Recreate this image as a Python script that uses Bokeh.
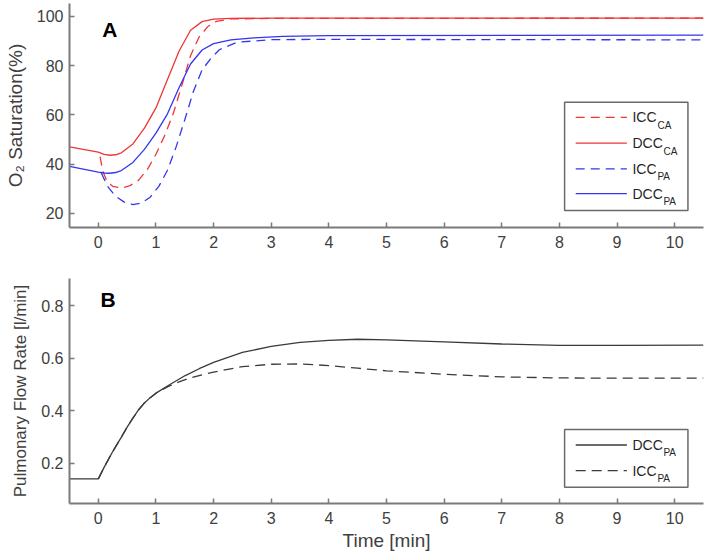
from bokeh.plotting import figure
from bokeh.layouts import column
from bokeh.models import Range1d, FixedTicker
from bokeh.core.properties import value
from bokeh.embed import file_html
from bokeh.resources import INLINE

# ---------------- data ----------------
# Panel A: O2 saturation (%)
t_dcc_ca = [-0.5, 0.0, 0.1, 0.2, 0.3, 0.4, 0.6, 0.8, 1.0, 1.2, 1.4, 1.6, 1.8, 2.0, 2.3, 3.0, 10.5]
v_dcc_ca = [47.0, 44.9, 44.0, 43.6, 43.8, 44.6, 48.2, 54.6, 62.8, 74.3, 85.8, 94.3, 97.8, 98.8, 99.1, 99.2, 99.2]

t_icc_ca = [0.03, 0.08, 0.15, 0.25, 0.4, 0.55, 0.7, 0.85, 1.0, 1.15, 1.3, 1.45, 1.6, 1.75, 1.9, 2.05, 2.3, 3.0, 10.5]
v_icc_ca = [43.0, 37.0, 33.0, 31.0, 30.3, 31.3, 33.5, 37.8, 44.0, 51.5, 60.5, 72.0, 84.0, 91.6, 95.8, 97.9, 98.9, 99.1, 99.2]

t_dcc_pa = [-0.5, 0.0, 0.1, 0.2, 0.3, 0.4, 0.6, 0.8, 1.0, 1.2, 1.4, 1.6, 1.8, 2.0, 2.3, 2.7, 3.2, 4.0, 10.5]
v_dcc_pa = [39.1, 36.8, 36.4, 36.3, 36.6, 37.4, 40.7, 46.0, 52.6, 60.4, 71.0, 80.6, 86.3, 88.9, 90.4, 91.2, 91.8, 92.1, 92.3]

t_icc_pa = [0.05, 0.16, 0.3, 0.45, 0.6, 0.75, 0.9, 1.05, 1.2, 1.35, 1.5, 1.65, 1.8, 1.95, 2.1, 2.4, 3.0, 4.0, 10.5]
v_icc_pa = [36.5, 31.0, 27.0, 24.6, 23.6, 24.2, 26.6, 31.0, 37.5, 47.0, 58.0, 69.5, 78.2, 82.8, 86.4, 89.4, 90.5, 90.6, 90.4]

# Panel B: pulmonary flow rate (l/min)
t_flow_dcc = [-0.5, 0.0, 0.1, 0.25, 0.4, 0.5, 0.6, 0.7, 0.8, 0.9, 1.0, 1.25, 1.5, 1.75, 2.0, 2.5, 3.0, 3.5, 4.0, 4.5, 5.0, 6.0, 7.0, 8.0, 9.0, 10.5]
q_flow_dcc = [0.141, 0.141, 0.185, 0.245, 0.300, 0.338, 0.372, 0.404, 0.430, 0.450, 0.467, 0.501, 0.533, 0.560, 0.584, 0.622, 0.645, 0.660, 0.668, 0.672, 0.670, 0.662, 0.654, 0.649, 0.649, 0.650]

t_flow_icc = [0.0, 0.1, 0.25, 0.4, 0.5, 0.6, 0.7, 0.8, 0.9, 1.0, 1.2, 1.4, 1.6, 1.8, 2.0, 2.5, 3.0, 3.5, 4.0, 4.5, 5.0, 6.0, 7.0, 8.0, 9.0, 10.5]
q_flow_icc = [0.141, 0.185, 0.245, 0.300, 0.338, 0.372, 0.404, 0.430, 0.450, 0.467, 0.491, 0.510, 0.525, 0.537, 0.547, 0.568, 0.577, 0.578, 0.572, 0.562, 0.552, 0.539, 0.529, 0.525, 0.524, 0.524]

x_ticks = [0, 1, 2, 3, 4, 5, 6, 7, 8, 9, 10]
ya_ticks = [20, 40, 60, 80, 100]
yb_ticks = [0.2, 0.4, 0.6, 0.8]

legA_main = ["ICC", "DCC", "ICC", "DCC"]
legA_sub = ["CA", "CA", "PA", "PA"]
legB_main = ["DCC", "ICC"]
legB_sub = ["PA", "PA"]

# ---------------- style ----------------
RED = "#ee3535"
BLUE = "#3535ee"
DARK = "#3a3a3a"
AXIS = "#7a7a7a"
TXT = "#404040"
FONT = "Liberation Sans"
DASH_A = "9 6"
DASH_B = "10 6"
X0, X1 = -0.5, 10.5


def style(p):
    p.outline_line_color = None
    p.grid.visible = False
    p.background_fill_color = "white"
    p.border_fill_color = "white"
    for ax in (p.xaxis[0], p.yaxis[0]):
        ax.axis_line_color = AXIS
        ax.axis_line_width = 2
        ax.major_tick_line_color = AXIS
        ax.major_tick_line_width = 1.5
        ax.major_tick_in = 5
        ax.major_tick_out = 0
        ax.minor_tick_line_color = None
        ax.major_label_text_font = FONT
        ax.major_label_text_font_size = "16px"
        ax.major_label_text_color = TXT
        ax.axis_label_text_font = FONT
        ax.axis_label_text_font_size = "19px"
        ax.axis_label_text_font_style = "normal"
        ax.axis_label_text_color = TXT
    p.xaxis[0].major_label_standoff = 8
    p.yaxis[0].major_label_standoff = 6
    p.yaxis[0].axis_label_standoff = 8
    p.xaxis[0].axis_label_standoff = 3
    p.xaxis[0].ticker = FixedTicker(ticks=x_ticks)


def legend(p, left, right, top, bottom, rows, mains, subs, colors, dashes, sub_offsets):
    p.quad(left=[left], right=[right], top=[top], bottom=[bottom],
           fill_color="white", line_color="#6a6a6a", line_width=1.5)
    w = right - left
    for y, c, d in zip(rows, colors, dashes):
        p.line([left + 0.09 * w, left + 0.505 * w], [y, y], line_color=c, line_width=1.3, line_dash=d)
    xt = [left + 0.55 * w] * len(rows)
    p.text(x=xt, y=rows, text=mains, text_font=value(FONT), text_font_size="14px",
           text_color="#262626", text_baseline="middle", text_align="left")
    p.text(x=xt, y=rows, text=subs, text_font=value(FONT), text_font_size="10px",
           text_color="#262626", text_baseline="middle", text_align="left",
           x_offset=sub_offsets, y_offset=8)


# ---------------- panel A ----------------
pA = figure(width=709, height=262, output_backend="svg", toolbar_location=None,
            x_range=Range1d(X0, X1), y_range=Range1d(14.3, 105.15),
            min_border_left=69, min_border_right=6, min_border_top=3, min_border_bottom=35)
style(pA)
pA.yaxis[0].ticker = FixedTicker(ticks=ya_ticks)
pA.yaxis[0].axis_label = "O\u2082 Saturation(%)"

pA.line(t_icc_ca, v_icc_ca, line_color=RED, line_width=1.3, line_dash=DASH_A)
pA.line(t_dcc_ca, v_dcc_ca, line_color=RED, line_width=1.3)
pA.line(t_icc_pa, v_icc_pa, line_color=BLUE, line_width=1.3, line_dash=DASH_A)
pA.line(t_dcc_pa, v_dcc_pa, line_color=BLUE, line_width=1.3)

pA.text(x=[0.07], y=[94.5], text=["A"], text_font=value("Liberation Sans"), text_font_size="21px",
        text_font_style="bold", text_color="black", text_baseline="middle", text_align="left")

legend(pA, 8.09, 10.23, 65.1, 21.2, [59.0, 48.5, 38.1, 28.0], legA_main, legA_sub,
       [RED, RED, BLUE, BLUE], [DASH_A, "solid", DASH_A, "solid"], [25, 31, 25, 31])

# ---------------- panel B ----------------
pB = figure(width=709, height=293, output_backend="svg", toolbar_location=None,
            x_range=Range1d(X0, X1), y_range=Range1d(0.0475, 0.903),
            min_border_left=69, min_border_right=6, min_border_top=16, min_border_bottom=52)
style(pB)
pB.yaxis[0].ticker = FixedTicker(ticks=yb_ticks)
pB.yaxis[0].axis_label = "Pulmonary Flow Rate [l/min]"
pB.yaxis[0].axis_label_text_font_size = "17px"
pB.xaxis[0].axis_label = "Time [min]"

pB.line(t_flow_dcc, q_flow_dcc, line_color=DARK, line_width=1.3)
pB.line(t_flow_icc, q_flow_icc, line_color=DARK, line_width=1.3, line_dash=DASH_B)

pB.text(x=[0.04], y=[0.823], text=["B"], text_font=value("Liberation Sans"), text_font_size="21px",
        text_font_style="bold", text_color="black", text_baseline="middle", text_align="left")

legend(pB, 8.09, 10.23, 0.3285, 0.109, [0.270, 0.1726], legB_main, legB_sub,
       [DARK, DARK], ["solid", DASH_B], [31, 25])

layout = column(pA, pB, spacing=0)
open("out.html", "w").write(file_html(layout, INLINE))
